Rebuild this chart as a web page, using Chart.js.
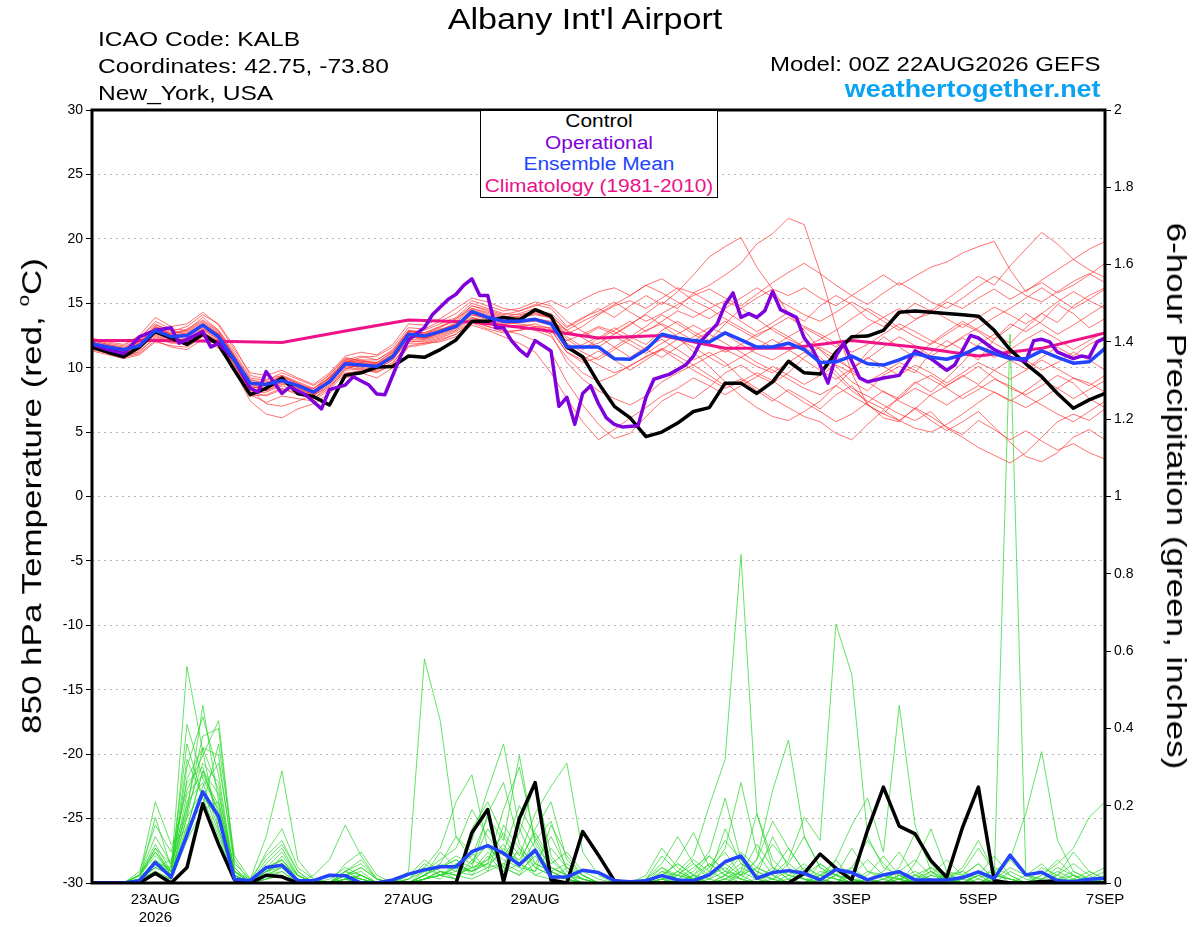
<!DOCTYPE html>
<html>
<head>
<meta charset="utf-8">
<script src="https://cdn.jsdelivr.net/npm/chart.js@4.4.1/dist/chart.umd.min.js"></script>
<style>
html, body { margin: 0; padding: 0; background: #fff; }
#wrap { position: relative; width: 1200px; height: 927px; font-family: "Liberation Sans", Arial, sans-serif; color: #000; overflow: hidden; }
#c { position: absolute; left: 0; top: 0; }
.t { position: absolute; white-space: nowrap; line-height: 1; }
.l { transform-origin: left center; transform: scaleX(1.17); }
.r { transform-origin: right center; transform: scaleX(1.17); }
#legend { position: absolute; left: 480px; top: 110px; width: 238px; height: 88px; box-sizing: border-box; border: 1.5px solid #000; background: #fff; }
#legend .t { left: 50%; font-size: 18px; transform: translateX(-50%) scaleX(1.16); }
</style>
</head>
<body>
<div id="wrap">
  <canvas id="c" width="1200" height="927"></canvas>

  <div class="t" style="left:585px;top:5px;font-size:29px;transform:translateX(-50%) scaleX(1.18);">Albany Int'l Airport</div>
  <div class="t l" style="left:98px;top:28px;font-size:21px;">ICAO Code: KALB</div>
  <div class="t l" style="left:98px;top:55px;font-size:21px;">Coordinates: 42.75, -73.80</div>
  <div class="t l" style="left:98px;top:82px;font-size:21px;">New_York, USA</div>
  <div class="t r" style="right:99px;top:54px;font-size:20.5px;">Model: 00Z 22AUG2026 GEFS</div>
  <div class="t r" style="right:99px;top:78px;font-size:23px;font-weight:bold;color:#0ca2f2;">weathertogether.net</div>

  <div id="legend">
    <div class="t" style="top:1px;">Control</div>
    <div class="t" style="top:22.5px;color:#8000dc;">Operational</div>
    <div class="t" style="top:44px;color:#2244ff;">Ensemble Mean</div>
    <div class="t" style="top:65.5px;color:#ee1188;">Climatology (1981-2010)</div>
  </div>

  <div class="t" style="left:31px;top:496px;font-size:28px;transform:translate(-50%,-50%) rotate(-90deg) scaleX(1.25);">850 hPa Temperature (red, <sup style="font-size:0.6em;vertical-align:0.7em;">o</sup>C)</div>
  <div class="t" style="left:1176px;top:496px;font-size:28px;transform:translate(-50%,-50%) rotate(90deg) scaleX(1.25);">6-hour Precipitation (green, inches)</div>
</div>

<script>
// time axis: hours after 00Z 22AUG2026, members every 6 h
const STEP_H = 6;
const tickHours = [24, 72, 120, 168, 240, 288, 336, 384];
const tickLabels = ['23AUG', '25AUG', '27AUG', '29AUG', '1SEP', '3SEP', '5SEP', '7SEP'];
const yearLabel = '2026';

// 850 hPa temperature (C)
const controlTemps = [
  11.6, 11.2, 10.85, 11.6, 12.8, 12.3, 11.8, 12.6, 11.8, 9.8,
  7.9, 8.4, 9.2, 8.0, 7.75, 7.1, 9.4, 9.6, 10.05, 10.1,
  10.9, 10.8, 11.4, 12.15, 13.6, 13.6, 13.9, 13.7, 14.5, 14.0,
  11.6, 10.85, 8.8, 7.0, 6.1, 4.65, 5.0, 5.7, 6.6, 6.9,
  8.8, 8.8, 8.0, 8.9, 10.5, 9.6, 9.5, 11.2, 12.4, 12.45,
  12.9, 14.3, 14.4, 14.3, 14.2, 14.1, 14.0, 12.9, 11.4, 10.3,
  9.3, 8.0, 6.85, 7.5, 8.0
];
const meanTemps = [
  11.85, 11.6, 11.4, 11.7, 12.9, 12.4, 12.5, 13.3, 12.4, 10.6,
  8.8, 8.7, 9.0, 8.6, 8.1, 8.9, 10.3, 10.2, 10.1, 10.85,
  12.6, 12.45, 12.8, 13.2, 14.35, 13.9, 13.6, 13.6, 13.75, 13.4,
  11.6, 11.6, 11.6, 10.7, 10.65, 11.4, 12.6, 12.3, 12.1, 12.0,
  12.7, 12.15, 11.6, 11.6, 11.9, 11.4, 10.4, 10.45, 10.9, 10.3,
  10.2, 10.6, 11.1, 10.8, 10.65, 11.0, 11.6, 11.1, 10.7, 10.7,
  11.3, 10.8, 10.35, 10.45, 11.5
];
// operational run (3-hourly vertices)
const opHours = [
  0, 6, 12, 18, 24, 30, 33, 36, 42, 45, 48, 54, 60, 63, 66, 72, 75, 81, 87, 90,
  96, 99, 105, 108, 111, 117, 120, 126, 129, 135, 138, 141, 144, 147, 150, 153, 156, 159, 162, 165,
  168, 171, 174, 177, 180, 183, 186, 189, 192, 195, 198, 201, 207, 210, 213, 219, 225, 228, 231, 237,
  240, 243, 246, 249, 252, 255, 258, 261, 267, 270, 273, 276, 279, 282, 285, 288, 291, 294, 300, 306,
  312, 318, 324, 327, 333, 336, 342, 348, 354, 357, 360, 363, 366, 372, 375, 378, 381, 384
];
const opTemps = [
  11.8, 11.4, 11.1, 12.4, 12.9, 13.1, 11.9, 12.2, 12.8, 11.6, 11.9, 10.6, 8.4, 8.1, 9.7, 8.0, 8.5, 7.9, 6.8, 8.3,
  8.65, 9.3, 8.65, 7.95, 7.9, 10.9, 12.15, 13.1, 14.1, 15.3, 15.7, 16.4, 16.9, 15.6, 15.6, 13.1, 13.1, 12.1, 11.4, 10.9,
  12.1, 11.7, 11.3, 7.0, 7.7, 5.6, 8.0, 8.6, 7.2, 6.1, 5.6, 5.4, 5.5, 7.7, 9.1, 9.5, 10.2, 10.9, 12.1, 13.4,
  14.9, 15.8, 13.9, 14.2, 13.9, 14.4, 15.9, 14.5, 13.9, 12.3, 11.5, 10.2, 8.8, 10.9, 11.9, 10.5, 9.2, 8.9, 9.2, 9.4,
  11.3, 10.7, 9.8, 10.2, 12.5, 12.3, 11.4, 10.8, 10.5, 12.1, 12.2, 12.0, 11.2, 10.7, 10.9, 10.8, 12.0, 12.3
];
// climatology, one value per day
const climHours = [0, 24, 48, 72, 96, 120, 144, 168, 192, 216, 240, 264, 288, 312, 336, 360, 384];
const climTemps = [12.1, 12.1, 12.05, 11.95, 12.85, 13.7, 13.55, 13.0, 12.3, 12.5, 11.5, 11.5, 12.1, 11.6, 10.9, 11.5, 12.7];

// ensemble members, 850 hPa temperature
const memberTemps = [
  [11.9,11.5,11.2,11.8,13.0, 12.6,12.9,13.6,12.8,10.9, 8.6,8.2,8.9,8.4,7.9, 9.1,10.6,10.9,10.6,11.4, 12.9,12.6,13.1,13.8,14.6, 14.3,13.9,14.2,14.6,14.1, 12.8,12.4,13.1,12.6,13.3, 14.2,15.1,14.6,15.8,16.4, 17.2,18.1,19.6,20.4,21.6, 21.1,17.4,13.2,9.6,7.1, 6.4,7.8,8.9,8.1,9.2, 10.4,11.8,12.6,11.9,13.1, 14.2,13.5,14.8,15.6,16.2],
  [11.6,11.3,10.9,11.2,12.4, 12.0,11.8,12.7,12.1,10.2, 8.1,7.8,8.3,8.1,7.6, 8.4,9.8,9.9,9.6,10.3, 12.0,12.1,12.4,12.9,13.8, 13.5,13.2,13.3,12.9,12.4, 10.8,9.6,8.9,9.4,10.2, 10.8,11.5,10.9,10.2,9.4, 8.6,9.1,8.2,7.4,8.3, 7.6,6.8,7.9,8.6,7.2, 6.1,5.8,6.9,6.2,5.4, 4.8,5.9,5.2,4.4,5.1, 4.3,3.6,4.1,3.4,2.9],
  [12.1,11.8,11.6,12.2,13.6, 13.0,12.9,13.9,12.9,11.2, 9.2,9.0,9.6,9.1,8.6, 9.4,10.8,10.5,10.4,11.2, 12.8,12.9,13.4,13.9,15.0, 14.6,14.2,14.1,14.4,14.2, 13.1,13.8,14.6,13.9,14.8, 15.6,14.9,15.9,17.2,18.6, 19.4,20.1,17.8,16.1,14.2, 12.9,11.4,10.1,8.9,8.2, 9.4,10.1,9.6,11.2,12.1, 11.4,10.6,12.2,13.4,12.8, 13.6,14.9,14.2,13.1,13.8],
  [11.4,11.1,10.8,11.1,12.1, 11.6,11.4,12.2,11.5,9.8, 7.4,6.4,6.1,6.8,7.2, 8.0,9.2,9.6,9.2,10.0, 11.6,11.8,12.1,12.6,13.6, 13.2,12.9,12.6,12.1,11.2, 8.9,7.1,5.6,4.5,4.9, 6.2,7.4,8.1,7.6,8.5, 9.6,10.2,9.4,8.8,9.6, 10.8,11.6,10.9,9.8,8.9, 8.1,7.6,8.8,9.4,8.6, 9.3,10.1,9.2,8.4,7.9, 8.6,9.4,8.8,7.6,6.9],
  [12.2,11.9,11.7,12.4,13.4, 12.8,13.2,14.1,13.4,11.6, 9.4,9.1,9.4,8.9,8.4, 9.2,10.4,10.8,10.9,11.6, 13.1,13.0,13.6,14.2,15.2, 14.8,14.4,14.6,15.1,14.8, 13.6,12.8,12.2,12.9,13.6, 12.8,13.6,14.4,13.9,14.6, 15.2,14.6,15.4,16.1,15.6, 16.2,15.4,14.8,15.6,16.4, 17.2,16.4,17.1,17.8,18.2, 18.9,19.4,19.8,17.6,15.9, 16.8,17.6,18.4,19.2,19.8],
  [11.7,11.4,11.1,11.6,12.8, 12.3,12.2,13.0,12.2,10.4, 8.4,8.6,9.2,8.5,8.2, 9.0,10.2,10.0,9.9,10.6, 12.3,12.4,12.9,13.4,14.2, 13.8,13.6,13.9,14.2,13.9, 12.2,11.4,12.3,13.1,12.4, 11.8,12.9,13.6,12.8,12.1, 13.4,14.6,13.8,12.9,12.2, 11.6,10.8,9.7,8.4,7.8, 7.1,6.4,5.9,6.6,5.3, 4.6,3.8,3.2,2.6,3.4, 4.6,5.8,6.4,5.9,6.8],
  [11.9,11.6,11.3,11.9,13.1, 12.5,12.7,13.4,12.6,10.8, 8.7,8.8,9.4,8.8,8.3, 9.5,10.7,10.6,10.3,11.0, 12.6,12.3,12.8,13.3,14.5, 14.1,13.6,13.8,14.3,13.8, 12.6,13.2,14.1,14.8,15.2, 14.6,15.4,16.2,15.8,15.1, 14.4,13.6,12.8,13.5,14.3, 13.6,14.8,15.6,14.9,13.8, 13.2,14.1,15.0,14.4,15.3, 16.2,17.1,16.4,17.9,19.2, 20.5,19.6,18.4,17.6,17.0],
  [11.5,11.2,11.0,11.4,12.6, 12.1,12.0,12.8,12.0,10.2, 8.0,8.1,8.6,8.2,7.8, 8.7,9.9,10.2,10.1,10.7, 12.1,12.0,12.3,12.8,13.6, 13.2,12.8,12.9,13.1,12.6, 10.4,9.1,8.2,7.6,7.1, 7.8,8.9,9.6,10.2,10.9, 11.4,10.8,10.1,9.6,10.4, 11.2,10.6,9.4,8.2,7.4, 6.8,7.6,8.4,7.8,7.1, 7.9,8.6,8.1,7.4,8.2, 9.1,8.4,7.6,8.3,9.0],
  [12.0,11.7,11.5,12.0,13.2, 12.7,12.8,13.5,12.7,10.9, 9.0,8.9,9.1,8.7,8.1, 9.0,10.4,10.3,10.2,10.9, 12.7,12.5,12.9,13.4,14.4, 14.0,13.7,13.6,13.8,13.5, 11.9,11.2,10.6,11.4,12.2, 12.9,13.4,12.8,12.1,12.8, 13.6,12.9,12.2,11.6,12.4, 13.1,12.4,11.6,12.3,13.2, 13.9,14.6,13.8,14.2,15.1, 14.6,15.4,16.1,15.3,16.0, 16.6,15.8,16.4,17.2,18.1],
  [11.8,11.5,11.2,11.7,12.9, 12.4,12.4,13.1,12.3,10.5, 8.5,8.4,8.8,8.4,7.9, 8.8,10.1,10.1,10.0,10.8, 12.5,12.3,12.6,13.1,14.1, 13.7,13.4,13.5,13.6,13.3, 11.4,11.8,12.4,11.6,10.8, 11.6,12.2,11.4,10.6,11.2, 10.4,9.2,8.4,7.6,6.9, 6.2,5.8,4.9,4.4,5.6, 6.7,5.9,6.8,7.9,8.6, 9.4,8.7,9.8,10.6,9.9, 10.8,11.6,10.9,11.8,12.4],
  [11.6,11.4,11.3,11.5,12.7, 12.2,12.6,13.2,12.6,10.8, 8.8,8.2,8.7,8.6,8.4, 9.2,10.5,10.4,10.2,11.1, 12.8,12.6,13.0,13.3,14.1, 13.9,13.5,13.4,13.2,12.9, 11.2,10.4,10.8,11.6,12.4, 13.2,14.1,13.4,12.6,11.9, 11.2,11.8,12.6,13.1,12.4, 11.6,12.2,12.9,13.8,14.6, 13.9,13.1,12.4,11.8,12.6, 13.4,12.8,11.9,11.2,10.6, 9.8,10.4,11.2,10.6,9.8],
  [11.3,11.0,10.7,11.0,12.0, 11.7,11.6,12.4,11.7,9.9, 7.8,7.9,8.4,7.9,7.6, 8.6,9.6,9.7,9.8,10.4, 11.9,11.9,12.2,12.6,13.5, 13.0,12.7,12.9,13.2,13.1, 11.8,10.9,10.2,9.6,10.1, 10.9,11.4,10.6,9.8,9.1, 8.4,8.9,9.6,9.0,8.1, 7.3,6.6,5.8,6.4,7.3, 8.2,7.4,6.8,5.9,5.1, 5.8,6.6,5.4,4.2,3.1, 2.7,3.4,4.6,5.2,4.4],
  [12.3,12.0,11.8,12.5,13.9, 13.2,13.4,14.3,13.3,11.4, 9.6,9.4,9.8,9.2,8.7, 9.6,10.9,11.2,11.0,11.8, 13.4,13.3,13.8,14.6,15.4, 15.1,14.6,14.4,14.8,15.2, 14.6,15.3,15.9,16.2,15.6, 16.4,15.8,15.1,14.4,13.8, 14.6,15.4,16.2,15.5,14.8, 14.1,13.6,14.3,15.1,14.4, 13.6,12.9,13.7,14.5,13.8, 13.1,13.9,14.7,14.1,13.4, 14.2,15.1,15.9,15.2,14.6],
  [11.7,11.3,11.0,11.5,12.5, 12.0,12.3,13.0,12.4,10.6, 8.3,7.2,7.0,7.4,7.9, 8.5,9.9,10.3,10.2,10.9, 12.4,12.2,12.5,13.0,13.9, 13.6,13.3,13.2,13.0,12.8, 12.1,12.6,13.2,12.8,12.1, 11.4,10.8,11.6,12.4,13.1, 12.6,11.8,11.1,10.6,11.3, 12.1,11.4,10.6,9.9,10.7, 11.6,12.4,11.7,10.9,11.6, 12.3,11.6,10.8,11.4,12.2, 12.9,12.2,11.4,12.1,12.8],
  [11.5,11.2,10.8,11.3,12.3, 11.9,11.9,12.6,11.9,10.0, 7.9,7.3,7.8,7.6,7.4, 8.3,9.5,9.8,9.7,10.2, 11.7,11.9,12.0,12.4,13.3, 12.9,12.4,11.9,11.2,9.6, 7.6,5.8,4.4,5.2,6.1, 6.9,7.8,8.4,9.2,8.6, 7.9,8.6,9.3,10.1,9.4, 8.7,9.4,10.2,9.6,8.9, 9.6,10.4,9.8,9.1,8.4, 7.6,8.3,9.1,8.6,7.8, 7.1,6.4,5.8,6.6,7.4],
  [11.9,11.7,11.4,12.1,13.3, 12.9,12.6,13.3,12.5,10.7, 8.9,8.7,9.0,8.6,8.0, 9.1,10.3,10.6,10.6,11.3, 12.9,12.7,13.2,13.6,14.8, 14.5,14.1,14.4,14.9,14.6, 13.2,13.9,14.4,15.1,14.3, 13.6,14.2,14.9,15.6,16.1, 15.4,14.8,15.7,16.6,17.4, 18.1,17.3,16.4,15.6,14.9, 15.8,16.6,15.9,15.1,14.6, 15.4,16.3,17.1,16.4,15.6, 15.1,15.9,16.7,17.3,16.6],
  [11.6,11.3,11.1,11.6,12.7, 12.2,12.1,12.9,12.2,10.3, 8.2,8.4,8.9,8.3,7.9, 8.9,10.0,9.9,9.9,10.6, 12.2,12.2,12.7,13.1,13.9, 13.5,13.2,13.2,13.4,13.0, 11.2,10.6,11.3,10.6,9.8, 10.6,11.4,12.2,11.6,10.8, 10.1,10.8,11.5,12.2,11.4, 10.6,9.8,9.1,9.9,10.8, 10.1,9.4,10.2,9.6,8.8, 9.6,10.4,9.8,9.1,9.8, 10.6,9.9,9.2,8.6,9.4],
  [12.1,11.8,11.5,12.0,13.1, 12.6,13.0,13.7,12.9,11.0, 9.1,8.7,9.3,8.8,8.2, 9.3,10.6,10.5,10.4,11.2, 12.8,12.7,13.2,13.8,14.8, 14.4,14.0,13.9,14.1,13.9, 12.4,11.6,11.9,12.6,13.4, 14.1,13.3,12.4,11.2,10.1, 8.9,7.8,6.9,6.2,5.9, 6.6,7.4,8.6,9.8,11.2, 12.4,11.6,10.8,11.9,12.8, 13.6,12.9,12.2,13.1,14.2, 13.4,12.6,13.3,14.1,14.9],
  [11.8,11.5,11.3,11.8,13.0, 12.5,12.5,13.2,12.4,10.6, 8.6,8.6,9.0,8.5,8.0, 8.9,10.2,10.2,10.1,10.8, 12.4,12.3,12.7,13.2,14.2, 13.8,13.5,13.5,13.8,13.6, 12.9,12.3,11.6,12.4,11.8, 11.1,11.9,12.6,13.3,12.6, 11.9,11.2,10.4,9.8,9.1, 8.4,7.9,8.6,7.8,7.1, 6.4,5.9,5.3,5.0,5.6, 6.4,7.3,8.1,7.5,6.9, 7.6,8.4,9.2,8.8,8.1],
  [12.0,11.6,11.4,11.9,13.2, 12.6,12.6,13.4,12.6,10.8, 8.8,8.8,9.3,8.7,8.2, 9.2,10.5,10.4,10.3,11.0, 12.6,12.5,12.9,13.5,14.6, 14.2,13.8,14.0,14.4,14.0, 12.9,13.6,14.2,14.9,15.6, 16.4,16.9,16.1,15.2,14.6, 13.8,13.1,12.4,13.2,13.9, 13.2,12.6,11.9,11.2,11.8, 12.6,13.4,12.8,12.1,11.6, 12.4,13.1,13.9,14.6,15.4, 16.2,15.4,14.6,15.3,16.1]
];

// 6-hour precipitation (inches)
const controlPrecip = [
  0, 0, 0, 0, 0.025, 0, 0.04, 0.205, 0.10, 0.008,
  0, 0.02, 0.016, 0, 0, 0, 0, 0, 0, 0,
  0, 0, 0, 0, 0.13, 0.19, 0.003, 0.167, 0.26, 0.008,
  0, 0.133, 0.072, 0.006, 0, 0, 0, 0, 0, 0,
  0, 0, 0, 0, 0, 0.025, 0.075, 0.038, 0.008, 0.137,
  0.248, 0.147, 0.127, 0.058, 0.015, 0.144, 0.248, 0.006, 0, 0,
  0.004, 0.005, 0, 0, 0
];
const meanPrecip = [
  0, 0, 0, 0.006, 0.053, 0.015, 0.124, 0.236, 0.172, 0.01,
  0.006, 0.04, 0.046, 0.006, 0.006, 0.02, 0.019, 0, 0, 0.008,
  0.023, 0.034, 0.042, 0.042, 0.081, 0.097, 0.077, 0.047, 0.085, 0.015,
  0.016, 0.033, 0.027, 0.006, 0.003, 0.006, 0.019, 0.008, 0.006, 0.021,
  0.055, 0.07, 0.012, 0.027, 0.032, 0.025, 0.008, 0.035, 0.027, 0.008,
  0.021, 0.029, 0.008, 0.008, 0.008, 0.014, 0.029, 0.012, 0.072, 0.021,
  0.028, 0.006, 0.003, 0.01, 0.012
];
const memberPrecip = [
  [0,0,0,0.01,0.06, 0.03,0.56,0.34,0.14,0.02, 0,0.03,0.06,0.01,0, 0,0.02,0.01,0,0, 0.01,0.04,0.02,0.01,0.06, 0.1,0.04,0.02,0.08,0.03, 0.01,0,0,0,0, 0,0,0.02,0.05,0.01, 0,0.03,0.01,0,0, 0,0.02,0.06,0.01,0, 0,0,0.01,0.03,0, 0,0,0,0,0.02, 0.05,0.01,0,0,0],
  [0,0,0,0.02,0.12, 0.05,0.18,0.46,0.21,0.03, 0,0.05,0.09,0.02,0, 0.01,0.04,0.02,0,0, 0,0.02,0.05,0.12,0.08, 0.03,0.15,0.09,0.02,0.01, 0.04,0.02,0,0,0, 0,0.01,0.06,0.13,0.04, 0.08,0.02,0,0.01,0.05, 0.12,0.04,0.01,0,0, 0,0.02,0,0,0.01, 0.04,0.11,0.03,0,0, 0,0,0.01,0,0],
  [0,0,0,0.01,0.09, 0.02,0.3,0.43,0.28,0.02, 0,0.02,0.04,0,0, 0,0.01,0,0,0, 0.02,0.06,0.03,0.01,0.14, 0.21,0.12,0.05,0.03,0.09, 0.04,0.01,0,0,0, 0.02,0.09,0.04,0.01,0, 0,0.02,0.1,0.04,0.01, 0,0.03,0.02,0.09,0.03, 0.01,0,0,0.02,0.06, 0.02,0,0,0.03,0.01, 0,0,0,0.02,0.04],
  [0,0,0,0.03,0.15, 0.08,0.24,0.33,0.42,0.05, 0.01,0.07,0.11,0.03,0, 0,0.03,0.06,0.01,0, 0,0.01,0.03,0.02,0.04, 0.18,0.26,0.1,0.04,0.02, 0.01,0,0,0,0, 0,0,0.01,0.03,0.08, 0.22,0.06,0.02,0,0, 0.03,0.01,0,0,0.02, 0.07,0.02,0,0,0, 0.01,0.03,0.01,0,0, 0.02,0.06,0.02,0,0],
  [0,0,0,0.01,0.04, 0.06,0.2,0.38,0.4,0.04, 0,0.04,0.08,0.02,0, 0,0.02,0.03,0,0, 0.01,0.03,0.06,0.09,0.19, 0.12,0.07,0.13,0.26,0.07, 0.02,0.01,0,0,0, 0,0.04,0.01,0,0.03, 0.09,0.26,0.08,0.02,0, 0,0.01,0,0.04,0.11, 0.05,0.01,0,0,0.02, 0.03,0.01,0,0,0, 0,0.01,0.03,0.01,0],
  [0,0,0,0.02,0.21, 0.1,0.14,0.29,0.18,0.02, 0,0.08,0.14,0.04,0.01, 0,0.01,0,0,0, 0,0.02,0.08,0.04,0.03, 0.05,0.19,0.3,0.11,0.04, 0.02,0,0,0,0, 0,0,0,0.01,0.02, 0.04,0.01,0,0.03,0.09, 0.03,0,0.02,0.01,0, 0,0.04,0.13,0.05,0.01, 0,0.02,0,0,0, 0,0,0,0.01,0.03],
  [0,0,0,0.01,0.17, 0.04,0.36,0.22,0.12,0.01, 0,0.03,0.05,0.01,0, 0,0.05,0.08,0.02,0, 0,0.01,0.02,0.05,0.03, 0.08,0.04,0.16,0.09,0.03, 0.01,0,0,0,0, 0,0.02,0.05,0.02,0, 0.01,0.04,0.02,0.12,0.04, 0.01,0,0,0.02,0.06, 0.02,0,0.05,0.14,0.03, 0,0,0.02,0.01,0, 0.01,0.02,0.08,0.03,0.01],
  [0,0,0,0.02,0.08, 0.02,0.41,0.27,0.19,0.03, 0.01,0.12,0.29,0.06,0.01, 0,0.02,0.04,0.01,0, 0,0.03,0.04,0.06,0.02, 0.04,0.09,0.05,0.14,0.21, 0.06,0.02,0,0,0, 0,0,0,0.02,0.05, 0.02,0,0.01,0.04,0.02, 0.01,0,0,0,0.01, 0.03,0.08,0.02,0,0, 0,0.01,0.04,0.02,0, 0,0,0,0,0.01],
  [0,0,0,0.01,0.03, 0.01,0.12,0.25,0.31,0.06, 0,0.01,0.03,0,0.02, 0.06,0.15,0.07,0.01,0, 0,0.01,0.02,0.01,0.05, 0.14,0.08,0.2,0.12,0.05, 0.08,0.03,0.01,0,0, 0,0.01,0.02,0.01,0, 0.02,0.07,0.03,0.01,0, 0,0.02,0.04,0.01,0, 0,0.01,0.03,0.01,0, 0,0,0.01,0.06,0.02, 0.01,0.03,0.01,0,0],
  [0,0,0,0.02,0.07, 0.03,0.27,0.35,0.24,0.03, 0,0.02,0.07,0.02,0, 0,0.01,0.02,0,0, 0.03,0.58,0.42,0.12,0.06, 0.04,0.05,0.03,0.07,0.02, 0.01,0,0,0,0, 0,0.01,0,0.02,0.07, 0.03,0.01,0,0,0.01, 0.04,0.02,0.01,0,0, 0,0,0.01,0.04,0.02, 0.01,0,0.02,0.01,0, 0.04,0.02,0,0,0],
  [0,0,0,0.01,0.05, 0.04,0.19,0.31,0.26,0.02, 0,0.03,0.04,0.01,0, 0,0.01,0,0,0, 0.02,0.04,0.09,0.21,0.28, 0.09,0.06,0.04,0.11,0.16, 0.03,0.01,0,0,0, 0.01,0.05,0.12,0.05,0.02, 0.14,0.05,0.03,0.01,0, 0,0.05,0.02,0,0.03, 0.02,0.01,0,0.03,0.01, 0,0.02,0.07,0.02,0, 0,0.01,0,0,0.02],
  [0,0,0,0.02,0.1, 0.03,0.23,0.28,0.2,0.02, 0,0.06,0.1,0.03,0, 0,0.02,0.01,0,0, 0,0.02,0.05,0.03,0.11, 0.24,0.36,0.14,0.05,0.03, 0.05,0.02,0,0,0, 0,0.03,0.01,0,0.01, 0.05,0.02,0.04,0.1,0.05, 0.02,0.01,0,0,0, 0.01,0.03,0.01,0,0, 0.02,0.05,0.01,0,0, 0,0.02,0.05,0.02,0],
  [0,0,0,0.01,0.04, 0.02,0.17,0.35,0.33,0.04, 0,0.01,0.02,0,0, 0,0.03,0.05,0.01,0, 0.01,0.05,0.02,0.04,0.07, 0.17,0.11,0.33,0.1,0.04, 0.02,0,0,0,0, 0.01,0.07,0.03,0.01,0.04, 0.11,0.06,0.01,0,0.02, 0.05,0.01,0,0.03,0.01, 0,0.02,0.01,0,0, 0.01,0.03,0.01,0,0, 0,0,0.01,0.03,0.01],
  [0,0,0,0.01,0.06, 0.02,0.15,0.2,0.36,0.07, 0.01,0.04,0.06,0.01,0, 0,0.02,0.01,0,0, 0,0.01,0.03,0.02,0.04, 0.06,0.13,0.07,0.18,0.25, 0.31,0.08,0.02,0,0, 0,0.02,0.05,0.02,0, 0.01,0.03,0.18,0.06,0.02, 0.01,0,0,0,0, 0,0.01,0.02,0.04,0.01, 0,0,0.01,0.04,0.02, 0,0,0,0.01,0],
  [0,0,0,0.02,0.09, 0.05,0.26,0.3,0.16,0.02, 0,0.03,0.05,0.02,0, 0,0.03,0.02,0,0, 0,0.02,0.04,0.07,0.05, 0.1,0.04,0.02,0.05,0.03, 0.01,0,0,0,0, 0,0,0.03,0.07,0.2, 0.32,0.85,0.18,0.04,0.01, 0,0.02,0.01,0,0, 0,0,0.02,0.01,0, 0,0.03,0.01,0,0, 0,0.01,0.02,0,0],
  [0,0,0,0.01,0.03, 0.01,0.21,0.26,0.14,0.01, 0,0.02,0.03,0,0, 0,0.01,0,0,0, 0,0.01,0.02,0.03,0.02, 0.07,0.03,0.05,0.02,0.04, 0.02,0,0,0,0, 0,0.01,0,0.02,0.01, 0.03,0.08,0.04,0.02,0.06, 0.17,0.11,0.67,0.54,0.12, 0.04,0.02,0,0.01,0, 0,0.02,0.03,0.01,0, 0,0,0.02,0.01,0],
  [0,0,0,0.01,0.05, 0.03,0.17,0.24,0.13,0.02, 0,0.02,0.04,0.01,0, 0,0.01,0.02,0,0, 0,0.02,0.01,0.05,0.03, 0.06,0.1,0.04,0.03,0.15, 0.07,0.02,0,0,0, 0.01,0.04,0.02,0.01,0.05, 0.02,0.01,0.06,0.16,0.09, 0.03,0.01,0.06,0.15,0.22, 0.08,0.46,0.15,0.03,0.01, 0,0.02,0.01,0,0, 0,0.01,0,0,0],
  [0,0,0,0.01,0.02, 0.01,0.11,0.19,0.21,0.03, 0,0.01,0.02,0,0, 0,0.02,0.04,0.01,0, 0,0.01,0.03,0.02,0.01, 0.03,0.05,0.08,0.04,0.02, 0.01,0,0,0,0, 0,0.01,0.03,0.01,0, 0.02,0.05,0.02,0.01,0.03, 0.01,0,0.02,0.04,0.01, 0,0.02,0.01,0,0.03, 0.02,0.05,0.01,1.42,0.02, 0.01,0.04,0.02,0,0],
  [0,0,0,0.02,0.08, 0.03,0.32,0.22,0.17,0.02, 0,0.04,0.06,0.02,0, 0,0.03,0.01,0,0, 0,0.02,0.04,0.06,0.04, 0.05,0.08,0.06,0.13,0.06, 0.02,0.01,0,0,0, 0,0.03,0.02,0.06,0.03, 0.01,0,0.04,0.02,0, 0.02,0.05,0.02,0.01,0, 0.01,0.03,0.06,0.02,0.01, 0.03,0.09,0.03,0.06,0.18, 0.34,0.11,0.03,0.01,0],
  [0,0,0,0.01,0.04, 0.02,0.14,0.29,0.23,0.03, 0,0.03,0.05,0.01,0, 0,0.01,0.02,0,0, 0,0.01,0.02,0.04,0.03, 0.05,0.03,0.09,0.05,0.12, 0.04,0.01,0,0,0, 0,0.02,0.01,0.04,0.07, 0.03,0.02,0.06,0.24,0.37, 0.12,0.04,0.02,0,0.01, 0.02,0.01,0,0.02,0.01, 0,0,0.02,0.01,0, 0.02,0.05,0.09,0.17,0.21]
];

const RED = 'rgba(255,45,45,0.85)';
const GREEN = 'rgba(40,215,40,0.9)';
const BLACK = '#000000';
const PURPLE = '#8000dc';
const BLUE = '#2244ff';
const PINK = '#ee1188';

function stepSeries(values) {
  return values.map((v, i) => ({ x: i * STEP_H, y: v }));
}
function pairSeries(hours, values) {
  return values.map((v, i) => ({ x: hours[i], y: v }));
}
function line(data, color, width, axis, order) {
  return { data, borderColor: color, borderWidth: width, yAxisID: axis, order,
    pointRadius: 0, tension: 0, fill: false, borderJoinStyle: 'round' };
}

const datasets = [];
memberTemps.forEach(m => datasets.push(line(stepSeries(m), RED, 0.8, 'y', 9)));
memberPrecip.forEach(m => datasets.push(line(stepSeries(m), GREEN, 0.8, 'y2', 8)));
datasets.push(line(stepSeries(controlPrecip), BLACK, 3.5, 'y2', 7));
datasets.push(line(stepSeries(meanPrecip), BLUE, 3.5, 'y2', 6));
datasets.push(line(pairSeries(climHours, climTemps), PINK, 3, 'y', 5));
datasets.push(line(stepSeries(controlTemps), BLACK, 3.5, 'y', 4));
datasets.push(line(pairSeries(opHours, opTemps), PURPLE, 3.5, 'y', 3));
datasets.push(line(stepSeries(meanTemps), BLUE, 3.5, 'y', 2));

const frame = {
  id: 'frame',
  afterDraw(chart) {
    const { ctx, chartArea: a } = chart;
    ctx.save();
    ctx.lineWidth = 3;
    ctx.strokeStyle = '#000';
    ctx.strokeRect(a.left, a.top, a.right - a.left, a.bottom - a.top);
    ctx.restore();
  }
};

const tickFont = { family: '"Liberation Sans", Arial, sans-serif', size: 14 };

new Chart(document.getElementById('c').getContext('2d'), {
  type: 'line',
  data: { datasets },
  plugins: [frame],
  options: {
    responsive: false,
    animation: false,
    events: [],
    layout: { padding: { top: 110, left: 0, right: 0, bottom: 0 } },
    plugins: { legend: { display: false }, tooltip: { enabled: false } },
    scales: {
      x: {
        type: 'linear', min: 0, max: 384,
        afterBuildTicks: s => { s.ticks = tickHours.map(v => ({ value: v })); },
        afterFit: s => { s.height = 44; },
        grid: { display: false, drawTicks: false },
        border: { display: false },
        ticks: {
          autoSkip: false, maxRotation: 0, padding: 8, color: '#000',
          font: { family: tickFont.family, size: 15 },
          callback: v => {
            const k = tickHours.indexOf(v);
            if (k < 0) return '';
            return k === 0 ? [tickLabels[k], yearLabel] : tickLabels[k];
          }
        }
      },
      y: {
        position: 'left', min: -30, max: 30,
        afterFit: s => { s.width = 92; },
        grid: { color: '#b4b4b4', lineWidth: 1, tickColor: '#000', tickLength: 6, tickWidth: 1, tickBorderDash: [] },
        border: { display: false, dash: [2, 4] },
        ticks: { stepSize: 5, padding: 3, color: '#000', font: tickFont }
      },
      y2: {
        position: 'right', min: 0, max: 2,
        afterFit: s => { s.width = 95; },
        grid: { drawOnChartArea: false, tickColor: '#000', tickLength: 6, tickWidth: 1 },
        border: { display: false },
        ticks: {
          stepSize: 0.2, padding: 3, color: '#000', font: tickFont,
          callback: v => String(Math.round(v * 10) / 10)
        }
      }
    }
  }
});
</script>
</body>
</html>
